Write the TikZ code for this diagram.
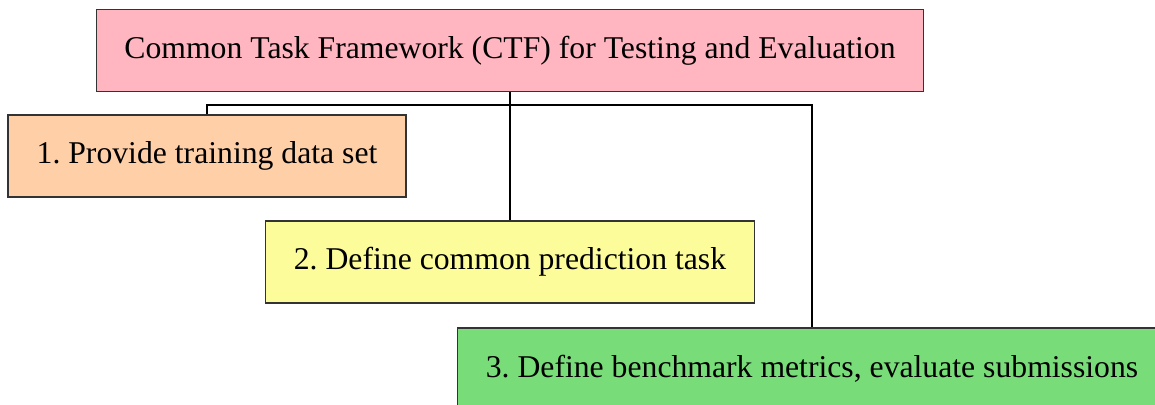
\documentclass[tikz,border=0pt]{standalone}
\usepackage{fontspec}
\setmainfont{Liberation Serif}
\frenchspacing
\definecolor{ctfpink}{HTML}{FFB6C1}
\definecolor{ctfpeach}{HTML}{FFD0A8}
\definecolor{ctfyellow}{HTML}{FCFC9A}
\definecolor{ctfgreen}{HTML}{78DD78}
\definecolor{ctfedge}{HTML}{333333}
\begin{document}
\begin{tikzpicture}[x=1pt,y=1pt,
  stagebox/.style={draw=ctfedge, line width=1.1pt, minimum height=82pt,
    inner xsep=28pt, anchor=center,
    font=\fontsize{31.7}{38}\selectfont\frenchspacing},
  link/.style={draw=black, line width=1.1pt}]
  \useasboundingbox (0,0) rectangle (1155,-404);
  \clip (0,0) rectangle (1155,-404);

  % framework header and its three stages
  \node[stagebox, fill=ctfpink, minimum width=826pt] (top) at (510,-50.5)
    {Common Task Framework (CTF) for Testing and Evaluation};
  \node[stagebox, fill=ctfpeach, minimum width=398pt] (s1) at (207,-156)
    {1. Provide training data set};
  \node[stagebox, fill=ctfyellow, minimum width=488pt] (s2) at (510,-262)
    {2. Define common prediction task};
  \node[stagebox, fill=ctfgreen, minimum width=708pt] (s3) at (812,-369)
    {3. Define benchmark metrics, evaluate submissions};

  % tree connectors through a shared horizontal bus
  \coordinate (bus) at (510,-105);
  \draw[link] (top.south) -- (top.south |- bus);
  \draw[link] (s1.north) |- (s3.north |- bus) -- (s3.north);
  \draw[link] (top.south |- bus) -- (s2.north);
\end{tikzpicture}
\end{document}
